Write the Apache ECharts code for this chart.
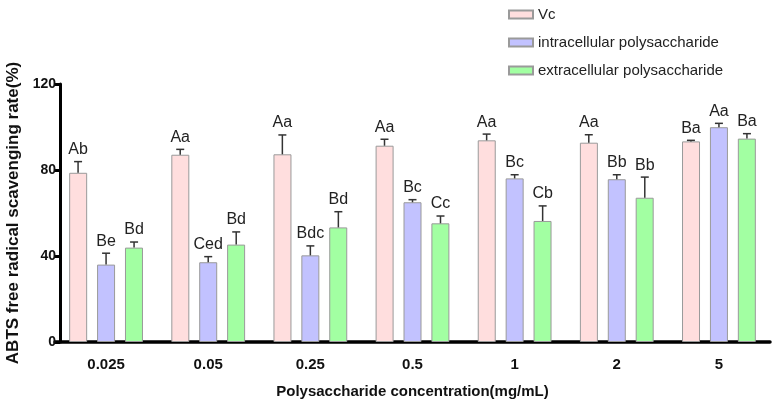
<!DOCTYPE html>
<html>
<head>
<meta charset="utf-8">
<script src="https://cdn.jsdelivr.net/npm/echarts@6/dist/echarts.min.js"></script>
<style>
  html, body { margin: 0; padding: 0; background: #fff; }
  #chart { width: 772px; height: 407px; }
</style>
</head>
<body>
<div id="chart"></div>
<script>
// concentrations (mg/mL)
const concentrations = ['0.025', '0.05', '0.25', '0.5', '1', '2', '5'];
const seriesNames = ['Vc', 'intracellular polysaccharide', 'extracellular polysaccharide'];

// mean scavenging rate (%)
const vcValues = [78.7, 87.1, 87.3, 91.3, 93.8, 92.7, 93.3];
const intraValues = [36.0, 37.1, 40.3, 65.0, 76.1, 75.7, 99.9];
const extraValues = [43.9, 45.3, 53.3, 55.2, 56.3, 67.1, 94.6];

// upper error (SD)
const vcErrors = [5.2, 2.5, 9.0, 3.0, 2.9, 3.7, 0.5];
const intraErrors = [5.3, 2.6, 4.4, 1.2, 1.7, 2.1, 1.8];
const extraErrors = [2.6, 5.9, 7.3, 3.4, 7.0, 9.6, 2.3];

// significance letters
const vcLetters = ['Ab', 'Aa', 'Aa', 'Aa', 'Aa', 'Aa', 'Ba'];
const intraLetters = ['Be', 'Ced', 'Bdc', 'Bc', 'Bc', 'Bb', 'Aa'];
const extraLetters = ['Bd', 'Bd', 'Bd', 'Cc', 'Cb', 'Bb', 'Ba'];

const colors = ['#ffdede', '#c2c2ff', '#a2ffa2'];
const barWidth = 18;
const barStep = 28; // distance between bar centres inside a group

const allValues = [vcValues, intraValues, extraValues];
const allErrors = [vcErrors, intraErrors, extraErrors];
const allLetters = [vcLetters, intraLetters, extraLetters];

const chart = echarts.init(document.getElementById('chart'));

const barSeries = seriesNames.map((name, i) => ({
    name: name,
    type: 'bar',
    data: allValues[i],
    barWidth: barWidth,
    barGap: '55%',
    itemStyle: { color: colors[i], borderColor: '#9a9a9a', borderWidth: 1 },
    z: 2
}));

// error bar (upper half only) + letter above it
const errorSeries = seriesNames.map((name, i) => ({
    name: name + ' err',
    type: 'custom',
    data: concentrations.map((c, k) => [k, allValues[i][k], allErrors[i][k], allLetters[i][k]]),
    encode: { x: 0, y: 1 },
    z: 3,
    renderItem: function (params, api) {
        const base = api.coord([api.value(0), api.value(1)]);
        const top = api.coord([api.value(0), api.value(1) + api.value(2)]);
        const x = base[0] + (i - 1) * barStep;
        return {
            type: 'group',
            children: [
                {
                    type: 'line',
                    shape: { x1: x, y1: base[1], x2: x, y2: top[1] },
                    style: { stroke: '#333', lineWidth: 1.5 }
                },
                {
                    type: 'line',
                    shape: { x1: x - 4, y1: top[1], x2: x + 4, y2: top[1] },
                    style: { stroke: '#333', lineWidth: 1.5 }
                },
                {
                    type: 'text',
                    x: x,
                    y: top[1] - 4,
                    style: {
                        text: allLetters[i][params.dataIndex],
                        fill: '#222',
                        font: '16px "Liberation Sans", Arial, sans-serif',
                        align: 'center',
                        verticalAlign: 'bottom'
                    }
                }
            ]
        };
    }
}));

const option = {
    animation: false,
    backgroundColor: '#fff',
    legend: {
        data: seriesNames,
        orient: 'vertical',
        left: 503,
        top: 2,
        icon: 'rect',
        itemWidth: 24,
        itemHeight: 8,
        itemGap: 13,
        textStyle: {
            fontFamily: '"Liberation Sans", Arial',
            fontSize: 15,
            color: '#222'
        }
    },
    grid: { left: 55, top: 84, width: 715, height: 258, outerBoundsMode: 'none' },
    xAxis: {
        type: 'category',
        data: concentrations,
        name: 'Polysaccharide concentration(mg/mL)',
        nameLocation: 'middle',
        nameGap: 42,
        nameTextStyle: {
            fontFamily: '"Liberation Sans", Arial',
            fontWeight: 'bold',
            fontSize: 15,
            color: '#111'
        },
        axisLine: { lineStyle: { color: '#000', width: 3.5 } },
        axisTick: { alignWithLabel: true, length: 6, lineStyle: { color: '#000', width: 3 } },
        axisLabel: {
            margin: 15,
            fontFamily: '"Liberation Sans", Arial',
            fontWeight: 'bold',
            fontSize: 15,
            color: '#111'
        }
    },
    yAxis: {
        type: 'value',
        min: 0,
        max: 120,
        interval: 40,
        offset: -5,
        name: 'ABTS free radical scavenging rate(%)',
        nameLocation: 'middle',
        nameGap: 36,
        nameTextStyle: {
            fontFamily: '"Liberation Sans", Arial',
            fontWeight: 'bold',
            fontSize: 17,
            color: '#111'
        },
        axisLine: { show: true, lineStyle: { color: '#000', width: 3 } },
        axisTick: { show: true, length: 6, lineStyle: { color: '#000', width: 3 } },
        splitLine: { show: false },
        axisLabel: {
            margin: 4,
            fontFamily: '"Liberation Sans", Arial',
            fontWeight: 'bold',
            fontSize: 14,
            color: '#111'
        }
    },
    series: barSeries.concat(errorSeries)
};

chart.setOption(option);
</script>
</body>
</html>
